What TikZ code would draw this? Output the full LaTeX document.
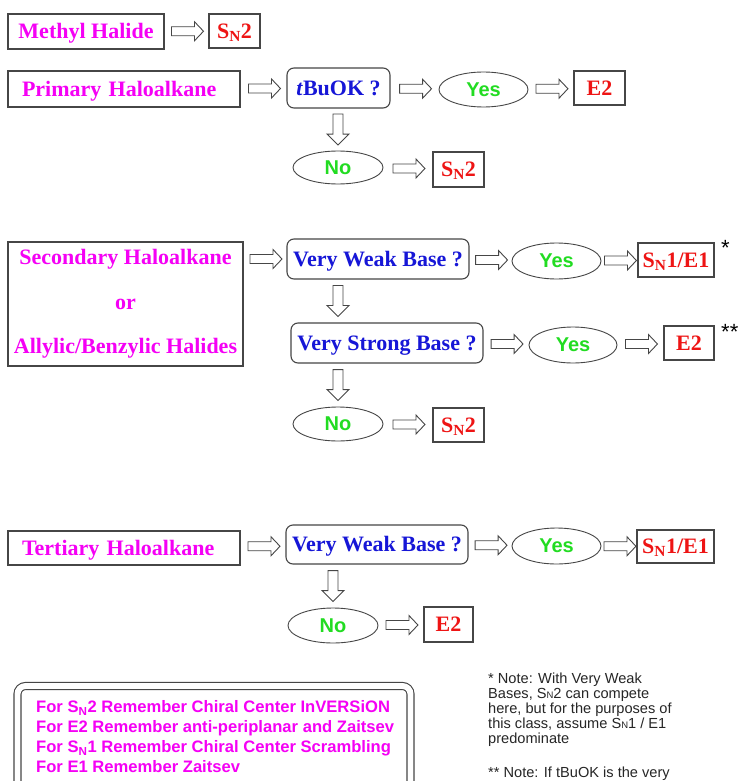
\documentclass[tikz,border=0pt]{standalone}
\usepackage{fontspec}
\setmainfont{Liberation Serif}
\setsansfont{Liberation Sans}
\usetikzlibrary{shapes.geometric,calc}
\definecolor{hmag}{RGB}{245,0,245}
\definecolor{qblue}{RGB}{22,22,215}
\definecolor{rred}{RGB}{238,20,20}
\definecolor{agreen}{RGB}{34,220,34}
\definecolor{edge}{RGB}{70,70,70}
\newcommand{\SN}{S\textsubscript{N}}
\newcommand{\SNsmall}{S{\fontsize{9.5}{10}\selectfont N}}
\begin{document}
\begin{tikzpicture}[x=1pt, y=-1pt,
  classbox/.style={draw=edge, line width=1.1pt, text=hmag, font=\bfseries\fontsize{22}{26}\selectfont, minimum height=35pt, inner sep=0, text height=16pt, text depth=1.5pt},
  askbox/.style={draw=edge, line width=1.1pt, rounded corners=7pt, text=qblue, font=\bfseries\fontsize{22}{26}\selectfont, minimum height=40pt, inner sep=0, text height=16pt, text depth=1.5pt},
  ansnode/.style={ellipse, draw=edge, line width=0.9pt, text=agreen, font=\sffamily\bfseries\fontsize{20}{24}\selectfont, minimum width=89pt, minimum height=35pt, inner sep=0},
  resbox/.style={draw=edge, line width=1.1pt, text=rred, font=\bfseries\fontsize{22}{26}\selectfont, minimum width=51pt, minimum height=34pt, inner sep=0, text height=16pt, text depth=1.5pt},
  harrow/.style={draw=edge, line width=0.9pt, fill=white, to path={
    let \p1=(\tikztostart), \p2=(\tikztotarget), \n1={0.5*(\x1+\x2)+1}, \n2={0.5*(\y1+\y2)} in
    (\n1-16pt,\n2+4.5pt) -- (\n1+7pt,\n2+4.5pt) -- (\n1+7pt,\n2+9.5pt) -- (\n1+16pt,\n2+0pt)
    -- (\n1+7pt,\n2-9.5pt) -- (\n1+7pt,\n2-4.5pt) -- (\n1-16pt,\n2-4.5pt) -- cycle}},
  varrow/.style={draw=edge, line width=0.9pt, fill=white, to path={
    let \p1=(\tikztostart), \p2=(\tikztotarget), \n1={0.5*(\x1+\x2)}, \n2={0.5*(\y1+\y2)} in
    (\n1+5pt,\n2+15.5pt) -- (\n1+5pt,\n2-4.5pt) -- (\n1+11pt,\n2-4.5pt) -- (\n1+0pt,\n2-15.5pt)
    -- (\n1-11pt,\n2-4.5pt) -- (\n1-5pt,\n2-4.5pt) -- (\n1-5pt,\n2+15.5pt) -- cycle}},
  remind/.style={font=\sffamily\bfseries\fontsize{16.6}{20}\selectfont, text=hmag, align=left, inner sep=0},
  note/.style={font=\sffamily\fontsize{14.6}{15}\selectfont, text=black!85, align=left, inner sep=0},
  starmark/.style={font=\sffamily\fontsize{22}{24}\selectfont, inner sep=0, anchor=north west},
  frame/.style={draw=edge, line width=1.1pt, double, double distance=5.9pt, rounded corners=8pt}
]
\useasboundingbox (0,0) rectangle (745,781);
\clip (0,0) rectangle (745,781);
\fill[white] (0,0) rectangle (745,781);

% methyl
\node[classbox, minimum width=156pt] (methyl) at (86,31.5) {Methyl Halide};
\node[resbox] (sn2a) at (234.5,31) {\SN2};
\draw[harrow] (methyl.east) to (sn2a.west);

% primary
\node[classbox, minimum width=232pt, minimum height=36pt, text width=204pt, align=left, inner xsep=14pt] (primary) at (124,89) {Primary Haloalkane};
\node[askbox, minimum width=103pt] (tbuok) at (338.5,88) {\textit{t}BuOK ?};
\node[ansnode] (yes1) at (483.5,89.5) {Yes};
\node[resbox] (e2a) at (599.5,88) {E2};
\node[ansnode, minimum width=90pt, minimum height=33pt] (no1) at (338,167.5) {No};
\node[resbox, minimum height=35pt] (sn2b) at (458.5,169.5) {\SN2};
\draw[harrow] (primary.east) to (tbuok.west);
\draw[harrow] (tbuok.east) to (yes1.west);
\draw[harrow] (yes1.east) to (e2a.west);
\draw[varrow] (tbuok.south -| no1.north) to (no1.north);
\draw[harrow] (no1.east) to (sn2b.west);

% secondary
\node[classbox, minimum width=235pt, minimum height=124pt, align=center, text height=, text depth=, font=\bfseries\fontsize{22}{44.5}\selectfont] (secondary) at (125.5,304) {\raisebox{-2pt}{Secondary Haloalkane}\\\raisebox{-2pt}{or}\\\raisebox{-2pt}{Allylic/Benzylic Halides}};
\node[askbox, minimum width=182pt] (vwb1) at (378,259) {Very Weak Base ?};
\node[ansnode, minimum height=36pt] (yes2) at (556.5,261) {Yes};
\node[resbox, minimum width=76pt] (sn1e1a) at (676,260) {\SN1/E1};
\node[askbox, minimum width=192pt] (vsb) at (387,343) {Very Strong Base ?};
\node[ansnode, minimum width=88pt, minimum height=36pt] (yes3) at (573,345) {Yes};
\node[resbox, minimum width=50pt] (e2b) at (689,343) {E2};
\node[ansnode, minimum width=90pt, minimum height=34pt] (no2) at (338,424) {No};
\node[resbox] (sn2c) at (458.5,425) {\SN2};
\node[starmark] (star1) at (721,240) {*};
\node[starmark] (star2) at (721,324) {**};
\draw[harrow] (secondary.east |- vwb1.west) to (vwb1.west);
\draw[harrow] (vwb1.east) to (yes2.west);
\draw[harrow] (yes2.east) to (sn1e1a.west);
\draw[varrow] (vwb1.south -| no2.north) to (vsb.north -| no2.north);
\draw[harrow] (vsb.east) to (yes3.west);
\draw[harrow] (yes3.east) to (e2b.west);
\draw[varrow] (vsb.south -| no2.north) to (no2.north);
\draw[harrow] (no2.east) to (sn2c.west);

% tertiary
\node[classbox, minimum width=232pt, minimum height=34pt, text width=204pt, align=left, inner xsep=14pt] (tertiary) at (124,548) {Tertiary Haloalkane};
\node[askbox, minimum width=182pt, minimum height=39pt] (vwb2) at (377,544.5) {Very Weak Base ?};
\node[ansnode, minimum height=36pt] (yes4) at (556.5,546) {Yes};
\node[resbox, minimum width=77pt, minimum height=33pt] (sn1e1b) at (675.5,546.5) {\SN1/E1};
\node[ansnode, minimum width=90pt] (no3) at (333,625.5) {No};
\node[resbox, minimum width=49pt, minimum height=35pt] (e2c) at (448.5,624.5) {E2};
\draw[harrow] (tertiary.east) to (vwb2.west);
\draw[harrow] (vwb2.east) to (yes4.west);
\draw[harrow] (yes4.east) to (sn1e1b.west);
\draw[varrow] (vwb2.south -| no3.north) to (no3.north);
\draw[harrow] (no3.east) to (e2c.west);

% reminders and notes
\draw[frame] (17.5,686) rectangle (410.5,800);
\node[remind, anchor=north west] (remind) at (36,700.5) {For \SN2 Remember Chiral Center InVERSiON\\For E2 Remember anti-periplanar and Zaitsev\\For \SN1 Remember Chiral Center Scrambling\\For E1 Remember Zaitsev};
\node[note, anchor=north west] (note) at (488,672.5) {* Note: With Very Weak\\Bases, \SNsmall2 can compete\\here, but for the purposes of\\this class, assume \SNsmall1 / E1\\predominate\\[19pt]** Note: If tBuOK is the very};
\end{tikzpicture}
\end{document}
